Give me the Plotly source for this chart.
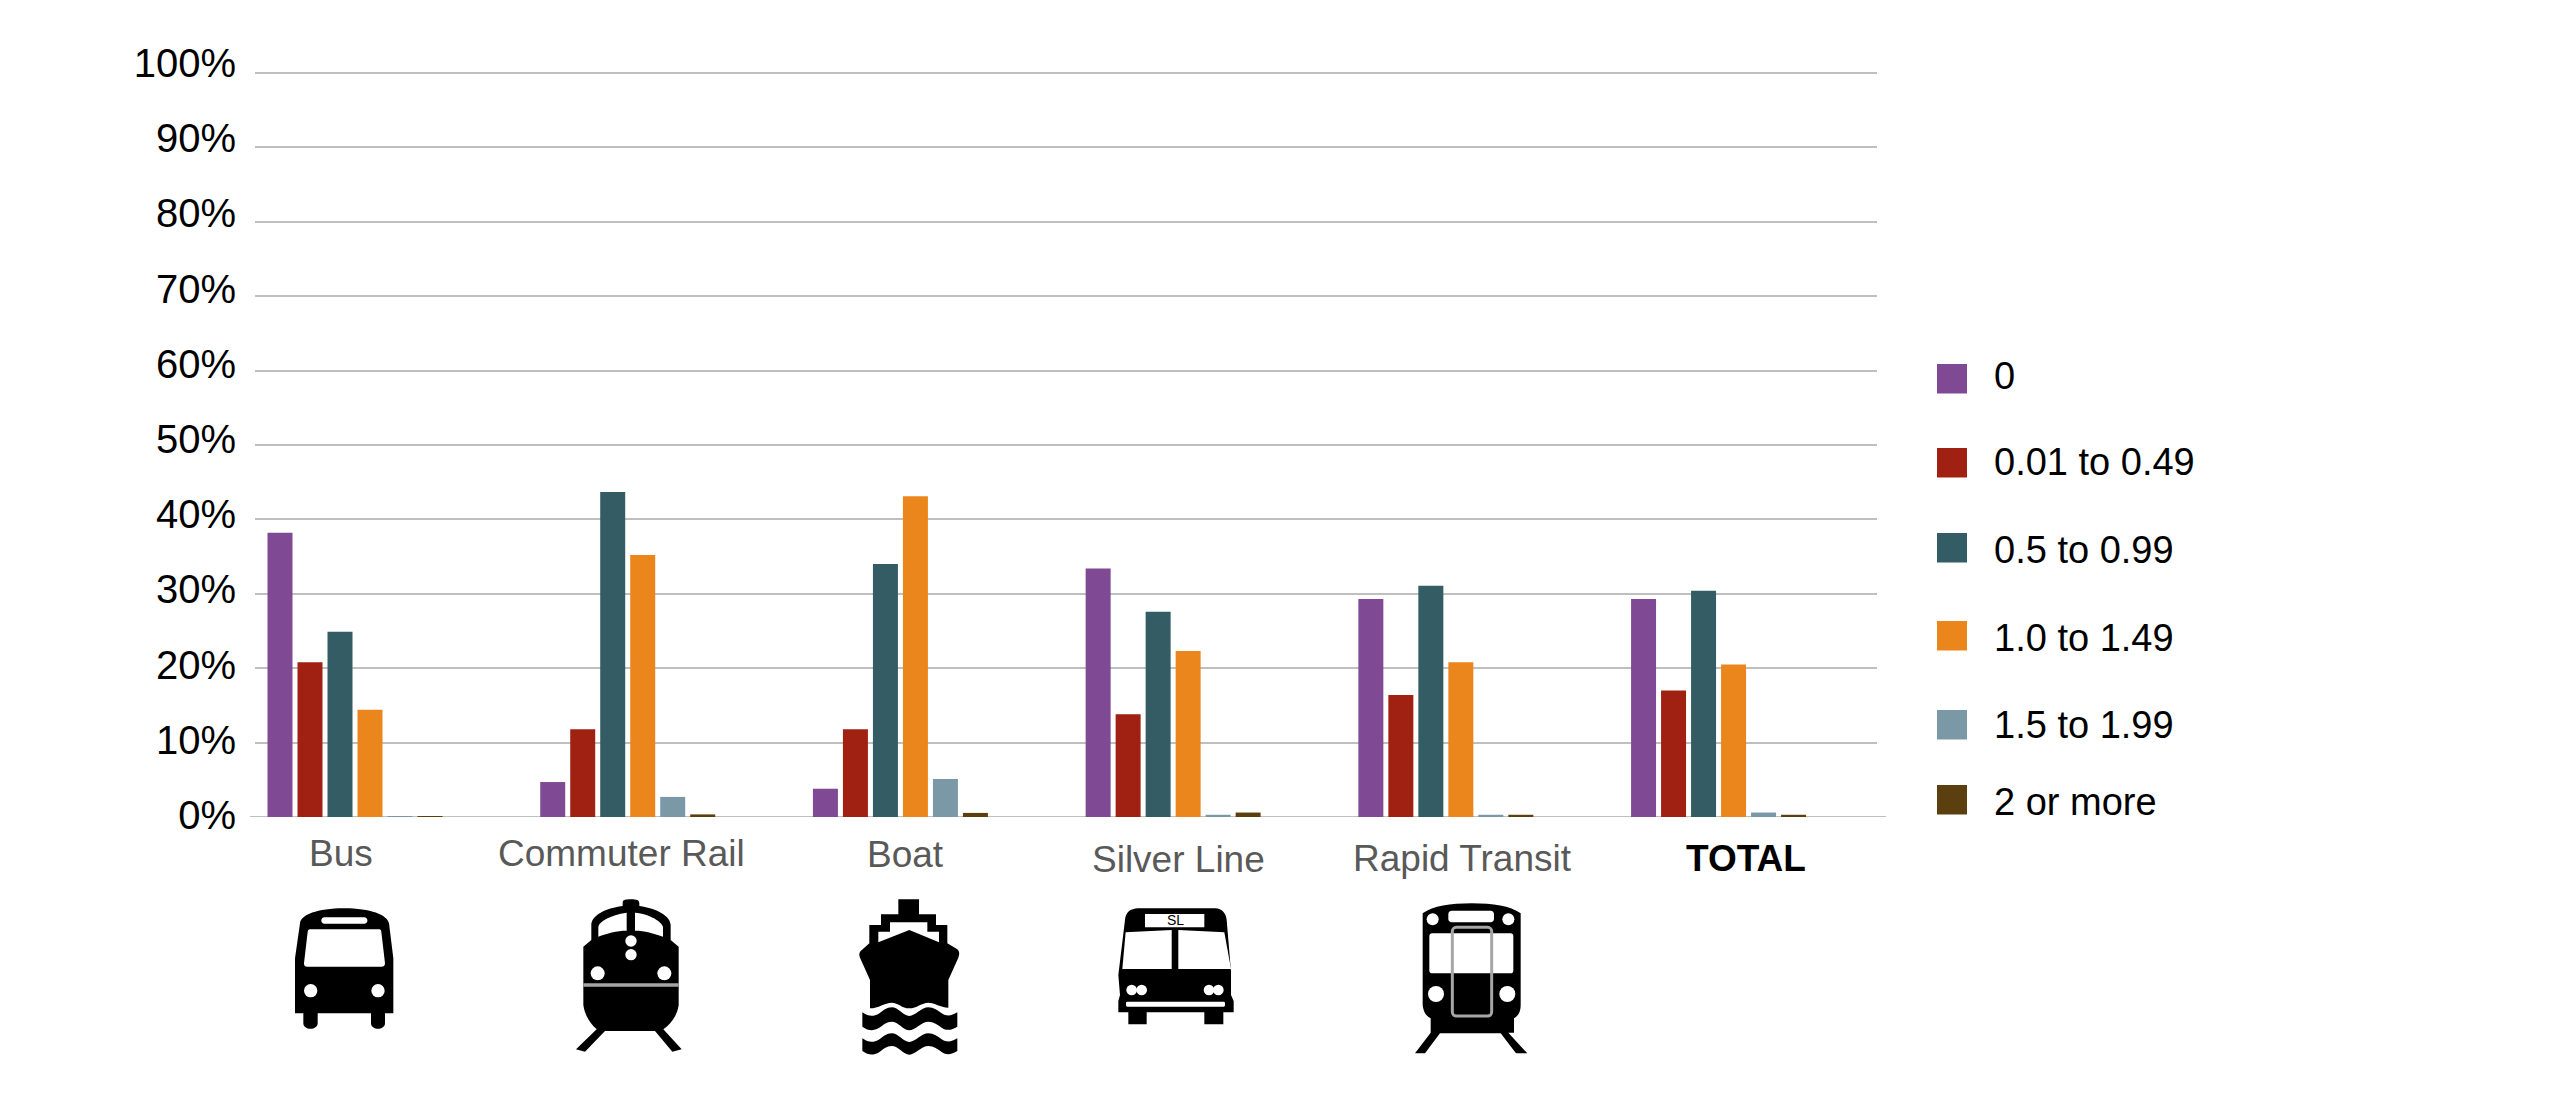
import re
import plotly.graph_objects as go

W, H = 2551, 1104

categories = ["Bus", "Commuter Rail", "Boat", "Silver Line", "Rapid Transit", "TOTAL"]
bands = ["0", "0.01 to 0.49", "0.5 to 0.99", "1.0 to 1.49", "1.5 to 1.99", "2 or more"]
share_0 = [38.2, 4.7, 3.8, 33.4, 29.3, 29.3]
share_001_049 = [20.8, 11.8, 11.8, 13.8, 16.4, 17.0]
share_05_099 = [24.9, 43.7, 34.0, 27.6, 31.1, 30.4]
share_10_149 = [14.4, 35.2, 43.1, 22.3, 20.8, 20.5]
share_15_199 = [0.1, 2.7, 5.1, 0.3, 0.3, 0.6]
share_2_plus = [0.1, 0.35, 0.55, 0.6, 0.3, 0.3]
series_values = [share_0, share_001_049, share_05_099, share_10_149, share_15_199, share_2_plus]
percent_ticks = [0, 10, 20, 30, 40, 50, 60, 70, 80, 90, 100]
percent_labels = ["0%", "10%", "20%", "30%", "40%", "50%", "60%", "70%", "80%", "90%", "100%"]

colors = ["#7F4A93", "#A02012", "#335C64", "#EB861C", "#7B98A6", "#5B3F0E"]
FONT = "Liberation Sans, Arial, sans-serif"
GRID = "#BFBFBF"
DOOR = "#A6A6A6"


def px(x):
    return x / W


def py(y):
    return 1 - y / H


def icon_path(d, ox, oy):
    """Icon outlines are noted in a 3x local frame; map them onto the paper."""
    out, is_x = [], True
    for tok in re.findall(r"[MLCZ]|-?[\d.]+", d):
        if tok in "MLCZ":
            out.append(tok)
            is_x = True
        else:
            v = float(tok)
            out.append(f"{px(ox + v / 3):.5f}" if is_x else f"{py(oy + v / 3):.5f}")
            is_x = not is_x
    s = ""
    for t in out:
        s += t if t in "MLCZ" else t + " "
    return s.replace(" M", "M")


def rrect(x0, y0, x1, y1, r):
    k = r * 0.45
    return (f"M{x0+r},{y0} L{x1-r},{y0} C{x1-k},{y0} {x1},{y0+k} {x1},{y0+r} L{x1},{y1-r} "
            f"C{x1},{y1-k} {x1-k},{y1} {x1-r},{y1} L{x0+r},{y1} C{x0+k},{y1} {x0},{y1-k} {x0},{y1-r} "
            f"L{x0},{y0+r} C{x0},{y0+k} {x0+k},{y0} {x0+r},{y0} Z")


def wave(y, h):
    return (f"M37,{y+15} C55,{y+28} 70,{y+28} 85,{y+20} C100,{y+10} 110,{y} 125,{y} C145,{y} 160,{y+26} 178,{y+26} "
            f"C195,{y+26} 215,{y} 235,{y} C250,{y} 265,{y+10} 275,{y+18} C290,{y+28} 305,{y+26} 322,{y+15} "
            f"L322,{y+15+h} C305,{y+26+h} 290,{y+28+h} 275,{y+18+h} C265,{y+10+h} 250,{y+h} 235,{y+h} "
            f"C215,{y+h} 195,{y+26+h} 178,{y+26+h} C160,{y+26+h} 145,{y+h} 125,{y+h} C110,{y+h} 100,{y+10+h} 85,{y+20+h} "
            f"C70,{y+28+h} 55,{y+28+h} 37,{y+15+h} Z")


shapes = []


def fill(d, ox, oy, color="black"):
    shapes.append(dict(type="path", xref="paper", yref="paper", path=icon_path(d, ox, oy),
                       fillcolor=color, line=dict(width=0)))


def dot(cx, cy, r, ox, oy, color="white"):
    shapes.append(dict(type="circle", xref="paper", yref="paper",
                       x0=px(ox + (cx - r) / 3), x1=px(ox + (cx + r) / 3),
                       y0=py(oy + (cy - r) / 3), y1=py(oy + (cy + r) / 3),
                       fillcolor=color, line=dict(width=0)))


# Bus
o = (284, 895)
fill("M33,355 L33,190 L48,85 C50,60 100,40 180,40 C260,40 310,60 315,85 L328,190 L328,355 L303,355 L303,385 "
     "C303,407 261,407 261,385 L261,355 L101,355 L101,385 C101,407 58,407 58,385 L58,355 Z", *o)
fill("M78,103 L285,103 C290,103 292,106 292,110 L303,205 C303,212 300,215 292,215 L70,215 C62,215 60,212 60,205 "
     "L71,110 C71,106 74,103 78,103 Z", *o, "white")
fill(rrect(112, 67, 250, 86, 9), *o, "white")
dot(80, 287, 20, *o)
dot(282, 287, 20, *o)

# Commuter rail
o = (570, 890)
fill("M40,170 L64,150 L64,105 C64,80 100,55 158,48 L158,38 C158,30 165,28 183,28 C200,28 208,30 208,40 L208,48 "
     "C262,55 302,80 302,105 L302,150 L326,170 L326,345 C322,375 305,400 280,418 L335,478 L307,485 L255,423 "
     "L105,423 L45,485 L18,478 L80,418 C60,400 44,375 40,345 Z", *o)
fill("M85,140 L85,110 C88,95 120,75 170,68 L170,122 C140,122 110,130 85,140 Z", *o, "white")
fill("M195,68 C240,72 275,95 279,110 L279,140 C250,130 225,122 195,122 Z", *o, "white")
dot(183, 153, 17, *o)
dot(183, 194, 17, *o)
dot(83, 250, 21, *o)
dot(283, 250, 21, *o)
fill("M40,280 L326,280 L326,290 L40,290 Z", *o, DOOR)

# Boat
o = (850, 890)
fill("M145,28 L207,28 L207,73 L258,73 L258,105 L292,105 L292,160 L322,178 C330,185 328,195 325,203 L295,270 L295,353 "
     "C270,352 255,338 235,338 C215,338 200,355 178,355 C155,355 145,338 125,338 C105,338 85,355 60,355 L60,270 "
     "L30,203 C26,193 28,185 38,178 L58,160 L58,105 L93,105 L93,73 L145,73 Z", *o)
fill("M120,97 L232,97 L232,125 L267,125 L267,157 L178,120 L85,157 L85,125 L120,125 Z", *o, "white")
fill(wave(352, 43), *o)
fill(wave(430, 38), *o)

# Silver Line
o = (1115, 895)
fill("M30,75 C32,52 45,41 70,40 L300,40 C322,41 333,55 335,75 L348,230 L348,300 L356,318 L356,352 L325,352 L325,388 "
     "L268,388 L268,352 L95,352 L95,388 L40,388 L40,352 L10,352 L10,318 L15,300 L10,240 Z", *o)
fill("M90,57 L268,57 L268,97 L90,97 Z", *o, "white")
fill("M32,112 L170,105 L170,222 L22,222 Z", *o, "white")
fill("M190,105 L328,112 L348,222 L190,222 Z", *o, "white")
for cx in (50, 80, 282, 310):
    dot(cx, 285, 16, *o)
fill(rrect(33, 320, 330, 335, 4), *o, "white")

# Rapid transit
o = (1410, 890)
fill("M38,70 C70,48 120,40 185,40 C250,40 300,48 332,70 L332,345 C332,365 325,378 312,385 L312,428 L295,428 L352,490 "
     "L318,490 L272,430 L90,430 L45,490 L15,490 L62,428 L62,385 C48,378 40,365 38,345 Z", *o)
fill(rrect(115, 62, 252, 97, 10), *o, "white")
dot(68, 88, 18, *o)
dot(295, 88, 18, *o)
fill(rrect(58, 130, 310, 250, 8), *o, "white")
dot(78, 312, 24, *o)
dot(292, 312, 24, *o)
shapes.append(dict(type="path", xref="paper", yref="paper", path=icon_path(rrect(127, 112, 245, 378, 12), *o),
                   line=dict(color=DOOR, width=3), fillcolor="rgba(0,0,0,0)"))

# Baseline runs a little past the gridlines
shapes.append(dict(type="line", xref="paper", yref="y", x0=px(250), x1=px(1886), y0=0, y1=0,
                   line=dict(color=GRID, width=2), layer="below"))

# Legend swatches
swatch_tops = [364, 448, 533, 621, 710, 785]
for top, c in zip(swatch_tops, colors):
    shapes.append(dict(type="rect", xref="paper", yref="paper", x0=px(1937), x1=px(1967),
                       y0=py(top), y1=py(top + 29.5), fillcolor=c, line=dict(width=0)))

annotations = []
legend_text_y = [376, 462, 549.5, 637.5, 724.5, 802]
for y, text in zip(legend_text_y, bands):
    annotations.append(dict(xref="paper", yref="paper", x=px(1992), y=py(y), text=text, showarrow=False,
                            xanchor="left", yanchor="middle", font=dict(family=FONT, size=38, color="black")))

label_x = [341, 621, 905, 1178, 1462, 1745.5]
label_y = [853.5, 853.5, 854, 859, 858, 858]
for i, text in enumerate(categories):
    total = text == "TOTAL"
    annotations.append(dict(xref="paper", yref="paper", x=px(label_x[i]), y=py(label_y[i]),
                            text=f"<b>{text}</b>" if total else text, showarrow=False,
                            xanchor="center", yanchor="middle",
                            font=dict(family=FONT, size=37, color="black" if total else "#595959")))
annotations.append(dict(xref="paper", yref="paper", x=px(1175), y=py(920), text="SL", showarrow=False,
                        xanchor="center", yanchor="middle", font=dict(family=FONT, size=14, color="black")))

fig = go.Figure()
for name, values, c in zip(bands, series_values, colors):
    fig.add_trace(go.Bar(name=name, x=categories, y=values, marker=dict(color=c, line=dict(width=0)),
                         showlegend=False))
# Carries the percent labels, which are spaced slightly wider than the gridlines in the reference
fig.add_trace(go.Scatter(x=[categories[0], categories[0]], y=[percent_ticks[0], percent_ticks[-1]], yaxis="y2",
                         mode="markers", marker=dict(opacity=0), showlegend=False, hoverinfo="skip"))

fig.update_layout(
    width=W, height=H, margin=dict(l=0, r=0, t=0, b=0), autosize=False,
    paper_bgcolor="white", plot_bgcolor="rgba(0,0,0,0)",
    barmode="group", bargap=0.34, bargroupgap=0.167, showlegend=False,
    font=dict(family=FONT),
    xaxis=dict(type="category", categoryorder="array", categoryarray=categories, range=[-0.3667, 5.581],
               domain=[px(255), px(1877)], showticklabels=False, ticks="", showgrid=False, zeroline=False,
               showline=False, anchor="y", automargin=False),
    yaxis=dict(domain=[py(817), py(65)], range=[0, 101.08], tickvals=percent_ticks, showticklabels=False, ticks="",
               showgrid=True, gridcolor=GRID, gridwidth=2, zeroline=False, showline=False, anchor="x",
               automargin=False),
    yaxis2=dict(domain=[py(815), py(63)], range=[0, 100], tickvals=percent_ticks, ticktext=percent_labels, ticks="",
                showgrid=False, zeroline=False, showline=False, anchor="x", ticklabelstandoff=18, automargin=False,
                tickfont=dict(family=FONT, size=40, color="black")),
    shapes=shapes, annotations=annotations,
)

fig.write_html("out.html", config=dict(displayModeBar=False), post_script="document.body.style.margin='0';")
